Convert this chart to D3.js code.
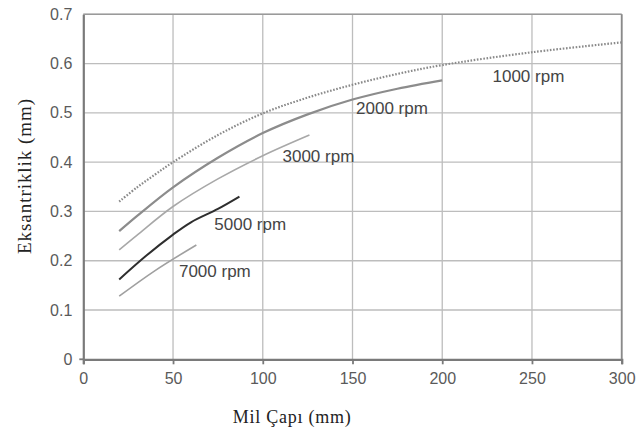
<!doctype html>
<html>
<head>
<meta charset="utf-8">
<script src="https://d3js.org/d3.v7.min.js"></script>
<style>
  body { margin: 0; background: #fff; }
  svg { display: block; }
</style>
</head>
<body>
<script>
// values (x = shaft diameter mm, y = eccentricity mm)
var rpm1000X = [20, 30, 40, 50, 75, 100, 125, 150, 175, 200, 250, 300];
var rpm1000Y = [0.32, 0.349, 0.375, 0.40, 0.455, 0.499, 0.531, 0.557, 0.579, 0.597, 0.623, 0.643];
var rpm2000X = [20, 30, 50, 75, 100, 125, 150, 175, 200];
var rpm2000Y = [0.26, 0.291, 0.349, 0.409, 0.459, 0.497, 0.527, 0.549, 0.566];
var rpm3000X = [20, 30, 50, 75, 100, 126];
var rpm3000Y = [0.222, 0.252, 0.31, 0.366, 0.413, 0.455];
var rpm5000X = [20, 35, 50, 60, 75, 87];
var rpm5000Y = [0.162, 0.21, 0.253, 0.278, 0.305, 0.33];
var rpm7000X = [20, 40, 63];
var rpm7000Y = [0.128, 0.18, 0.232];

var seriesNames = ["1000 rpm", "2000 rpm", "3000 rpm", "5000 rpm", "7000 rpm"];
var labelX = [228, 152, 111, 73, 53.3];
var labelY = [0.563, 0.498, 0.401, 0.262, 0.166];

var xTicks = [0, 50, 100, 150, 200, 250, 300];
var yTicks = [0, 0.1, 0.2, 0.3, 0.4, 0.5, 0.6, 0.7];

var width = 640, height = 432;
var margin = {top: 14.3, right: 18.3, bottom: 72.7, left: 83.3};
var chartWidth = width - margin.left - margin.right,
    chartHeight = height - margin.top - margin.bottom;

var svg = d3.select("body").append("svg")
    .attr("width", width)
    .attr("height", height);

var g = svg.append("g")
    .attr("transform", "translate(" + margin.left + "," + margin.top + ")");

var xScale = d3.scaleLinear().domain([0, 300]).range([0, chartWidth]);
var yScale = d3.scaleLinear().domain([0, 0.7]).range([chartHeight, 0]);

// grid
g.append("g")
  .selectAll("line")
  .data(xTicks.slice(1))
  .join("line")
    .attr("x1", d => xScale(d)).attr("x2", d => xScale(d))
    .attr("y1", 0).attr("y2", chartHeight)
    .attr("stroke", "#bdbdbd").attr("stroke-width", 1.3);

g.append("g")
  .selectAll("line")
  .data(yTicks.slice(1))
  .join("line")
    .attr("x1", 0).attr("x2", chartWidth)
    .attr("y1", d => yScale(d)).attr("y2", d => yScale(d))
    .attr("stroke", "#bdbdbd").attr("stroke-width", 1.3);

// axes
var xAxis = d3.axisBottom(xScale).tickValues(xTicks).tickSize(5).tickPadding(8);
var yAxis = d3.axisLeft(yScale).tickValues(yTicks).tickSize(0).tickPadding(11)
    .tickFormat(d => d === 0 ? "0" : d3.format(".1f")(d));

var gx = g.append("g")
  .attr("transform", "translate(0," + chartHeight + ")")
  .call(xAxis);
var gy = g.append("g").call(yAxis);

[gx, gy].forEach(function (a) {
  a.select(".domain").attr("stroke", "#7a7a7a").attr("stroke-width", 2.2);
  a.selectAll(".tick line").attr("stroke", "#7a7a7a").attr("stroke-width", 1.8);
  a.selectAll(".tick text")
    .attr("fill", "#5a5a5a")
    .style("font-family", "'Liberation Sans', Arial, sans-serif")
    .style("font-size", "16px");
});
// small tick left of the origin
g.append("line")
  .attr("x1", -4).attr("x2", 0)
  .attr("y1", yScale(0)).attr("y2", yScale(0))
  .attr("stroke", "#7a7a7a").attr("stroke-width", 1.8);

// curves
var xs = [rpm1000X, rpm2000X, rpm3000X, rpm5000X, rpm7000X];
var ys = [rpm1000Y, rpm2000Y, rpm3000Y, rpm5000Y, rpm7000Y];
var strokes = ["#8a8a8a", "#8c8c8c", "#a8a8a8", "#2e2e2e", "#a0a0a0"];
var widths = [2.2, 2.2, 1.6, 2, 1.6];
var dashes = ["1.6,1.6", null, null, null, null];

var line = d3.line()
  .x(d => xScale(d[0]))
  .y(d => yScale(d[1]))
  .curve(d3.curveCatmullRom.alpha(0.5));

xs.forEach(function (xv, i) {
  var pts = xv.map((x, j) => [x, ys[i][j]]);
  g.append("path")
    .datum(pts)
    .attr("fill", "none")
    .attr("stroke", strokes[i])
    .attr("stroke-width", widths[i])
    .attr("stroke-dasharray", dashes[i])
    .attr("d", line);
});

// series labels
g.append("g")
  .selectAll("text")
  .data(seriesNames)
  .join("text")
    .attr("x", (d, i) => xScale(labelX[i]))
    .attr("y", (d, i) => yScale(labelY[i]))
    .attr("fill", "#454545")
    .style("font-family", "'Liberation Sans', Arial, sans-serif")
    .style("font-size", "17px")
    .text(d => d);

// axis titles
svg.append("text")
  .attr("x", 232.7)
  .attr("y", 422.7)
  .attr("textLength", 118)
  .attr("fill", "#222")
  .style("font-family", "'Liberation Serif', 'Times New Roman', serif")
  .style("font-size", "18px")
  .text("Mil Çapı (mm)");

svg.append("text")
  .attr("transform", "translate(31,254) rotate(-90)")
  .attr("textLength", 155)
  .attr("fill", "#222")
  .style("font-family", "'Liberation Serif', 'Times New Roman', serif")
  .style("font-size", "19px")
  .text("Eksantriklik (mm)");

// frame: top and right border
g.append("line")
  .attr("x1", 0).attr("x2", chartWidth).attr("y1", 0).attr("y2", 0)
  .attr("stroke", "#9a9a9a").attr("stroke-width", 1.6);
g.append("line")
  .attr("x1", chartWidth).attr("x2", chartWidth).attr("y1", 0).attr("y2", chartHeight)
  .attr("stroke", "#8a8a8a").attr("stroke-width", 1.8);
</script>
</body>
</html>
